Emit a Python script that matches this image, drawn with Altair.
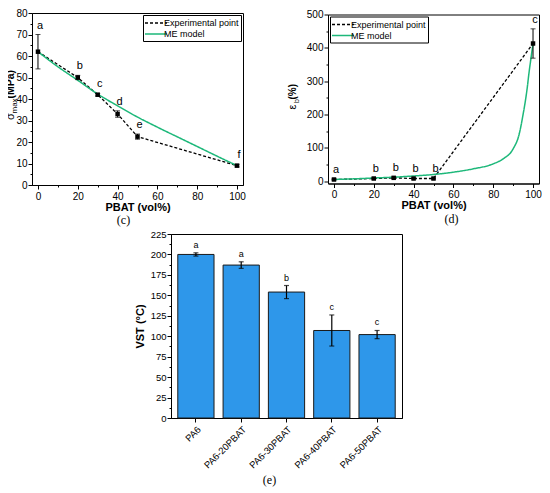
import altair as alt
import pandas as pd

# ---------------- data ----------------
pbat = [0, 20, 30, 40, 50, 100]
sigma = [62, 50, 42, 33, 22.5, 9]
sigma_err = [8, 1, 0.6, 1.5, 1.2, 0.6]
sigma_labels = ["a", "b", "c", "d", "e", "f"]
me_sigma_x = [0, 10, 20, 30, 40, 50, 60, 70, 80, 90, 100]
me_sigma_y = [62, 55, 48.7, 42.3, 36.8, 31.6, 26.9, 22.4, 17.9, 13.4, 9]

eps = [5, 8, 10, 8, 8, 413]
eps_err = [1.5, 1.5, 2, 1.5, 1.5, 44]
eps_labels = ["a", "b", "b", "b", "b", "c"]
me_eps_x = [0, 10, 20, 30, 40, 50, 60, 70, 80, 85, 90, 93, 95, 97, 98, 99, 100]
me_eps_y = [5, 7, 9.5, 12, 15.5, 20, 27, 37, 52, 67, 97, 140, 200, 276, 326, 370, 413]

vst_cats = ["PA6", "PA6-20PBAT", "PA6-30PBAT", "PA6-40PBAT", "PA6-50PBAT"]
vst = [200, 187, 154, 107, 102]
vst_err = [2, 4, 8, 19, 5]
vst_labels = ["a", "a", "b", "c", "c"]

series = ["Experimental point", "ME model"]
GREEN = "#1db87a"
FONT = "Liberation Sans"


def exp_df(x, y, err, lab):
    return pd.DataFrame({"x": x, "y": y, "lo": [a - b for a, b in zip(y, err)],
                         "hi": [a + b for a, b in zip(y, err)], "label": lab,
                         "series": series[0]})


df_c = exp_df(pbat, sigma, sigma_err, sigma_labels)
df_c_me = pd.DataFrame({"x": me_sigma_x, "y": me_sigma_y, "series": series[1]})
df_d = exp_df(pbat, eps, eps_err, eps_labels)
df_d_me = pd.DataFrame({"x": me_eps_x, "y": me_eps_y, "series": series[1]})
df_e = pd.DataFrame({"cat": vst_cats, "y": vst,
                     "lo": [a - b for a, b in zip(vst, vst_err)],
                     "hi": [a + b for a, b in zip(vst, vst_err)],
                     "label": vst_labels})
one = pd.DataFrame({"k": [0]})


def minor_axis(values, major, **kw):
    return alt.Axis(values=values, labelOverlap=False,
                    labelExpr=f"datum.value % {major} === 0 ? datum.label : ''",
                    tickSize={"condition": {"test": f"datum.value % {major} !== 0", "value": 2}, "value": 4},
                    **kw)


def xy_panel(df, df_me, ydom, yvals, ymajor, w, h, legend_orient, ptitle, pdx, ytitle_parts):
    xs = alt.Scale(domain=[-3, 103], nice=False)
    ys = alt.Scale(domain=ydom, nice=False)
    xax = minor_axis(list(range(0, 101, 10)), 20, title="PBAT (vol%)",
                     titleFontSize=11, titleFontWeight="bold", titleY=16, titleBaseline="top")
    yax = minor_axis(yvals, ymajor, title="", labelPadding=1)
    X = alt.X("x:Q", scale=xs, axis=xax)
    Y = alt.Y("y:Q", scale=ys, axis=yax)
    Ylo = alt.Y("lo:Q", scale=ys, axis=yax)
    Yhi = alt.Y("hi:Q", scale=ys, axis=yax)
    color = alt.Color("series:N", scale=alt.Scale(domain=series, range=["black", GREEN]),
                      legend=alt.Legend(title=None, orient=legend_orient, offset=2,
                                        strokeColor="black", fillColor="white",
                                        padding=2, symbolType="M-2.2,0H2.2", symbolSize=100,
                                        symbolOffset=5, symbolStrokeWidth=1.5, labelFontSize=9,
                                        labelOffset=2, rowPadding=0, labelFont=FONT))
    dash = alt.StrokeDash("series:N", scale=alt.Scale(domain=series, range=[[3, 2], [1, 0]]),
                          legend=alt.Legend(title=None, orient=legend_orient))
    base = alt.Chart(df)
    exp_line = base.mark_line(strokeWidth=1.3).encode(x=X, y=Y, color=color, strokeDash=dash)
    me_line = alt.Chart(df_me).mark_line(strokeWidth=1.5, interpolate="monotone").encode(
        x=X, y=Y, color=color, strokeDash=dash)
    pts = base.mark_square(size=20, color="black", opacity=1).encode(x=X, y=Y)
    rule = base.mark_rule(color="black", strokeWidth=1).encode(x=X, y=Ylo, y2="hi:Q")
    cap_lo = base.mark_tick(orient="horizontal", size=5, thickness=1, color="black").encode(x=X, y=Ylo)
    cap_hi = base.mark_tick(orient="horizontal", size=5, thickness=1, color="black").encode(x=X, y=Yhi)
    labs = base.mark_text(dy=-9, dx=2, fontSize=11, font=FONT, color="black").encode(
        x=X, y=Yhi, text="label:N")
    tparts = []
    for txt, xo, yo, fs, fw in ytitle_parts:
        tparts.append(alt.Chart(one).mark_text(angle=270, align="left", baseline="alphabetic",
                                               fontSize=fs, fontWeight=fw, font=FONT,
                                               color="black").encode(
            x=alt.value(xo), y=alt.value(yo), text=alt.value(txt)))
    return alt.layer(exp_line, me_line, rule, cap_lo, cap_hi, pts, labs, *tparts).properties(
        width=w, height=h,
        title=alt.TitleParams(ptitle, orient="bottom", frame="group", offset=3, dx=pdx,
                              font="Liberation Serif", fontSize=12, fontWeight="normal",
                              color="black"))


c = xy_panel(df_c, df_c_me, [0, 80], list(range(0, 81, 5)), 10, 211, 172, "top-right", "(c)", -14,
             [("σ", -18, 107, 11, "normal"), ("max", -15.5, 100.5, 8, "normal"),
              ("(MPa)", -18, 85.5, 10.5, "bold")])
d = xy_panel(df_d, df_d_me, [-7, 500], list(range(0, 501, 50)), 100, 211, 169, "top-left", "(d)", 18,
             [("ε", -32, 95, 11, "normal"), ("b", -29.5, 88.5, 7, "normal"),
              ("(%)", -32, 85, 10, "bold")])

# ---------------- panel e ----------------
ye = alt.Scale(domain=[0, 225], nice=False)
xsc = alt.Scale(paddingInner=0.2, paddingOuter=0.15)
xeax = alt.Axis(title=None, labelAngle=-45, labelAlign="right", labelBaseline="top",
                labelFontSize=9.5, tickSize=4, labelPadding=2)
yeax = alt.Axis(values=[i * 12.5 for i in range(19)], title="VST (°C)", labelOverlap=False,
                labelExpr="datum.value % 25 === 0 ? datum.label : ''",
                tickSize={"condition": {"test": "datum.value % 25 !== 0", "value": 2}, "value": 4},
                labelFontSize=9.5, labelPadding=1, titleFontSize=11,
                titleFontWeight="bold", titleX=-26, titleY=92)
xe = alt.X("cat:N", sort=vst_cats, scale=xsc, axis=xeax)
Ye = alt.Y("y:Q", scale=ye, axis=yeax)
Yelo = alt.Y("lo:Q", scale=ye, axis=yeax)
Yehi = alt.Y("hi:Q", scale=ye, axis=yeax)
be = alt.Chart(df_e)
bars = be.mark_bar(color="#2e97ea", stroke="#1a1a1a", strokeWidth=1).encode(x=xe, y=Ye)
erule = be.mark_rule(color="black", strokeWidth=1.2).encode(x=xe, y=Yelo, y2="hi:Q")
ecap_lo = be.mark_tick(orient="horizontal", size=5, thickness=1.2, color="black").encode(x=xe, y=Yelo)
ecap_hi = be.mark_tick(orient="horizontal", size=5, thickness=1.2, color="black").encode(x=xe, y=Yehi)
elabs = be.mark_text(baseline="bottom", dy=-3, fontSize=9, font=FONT, color="black").encode(
    x=xe, y=Yehi, text="label:N")
e = alt.layer(bars, erule, ecap_lo, ecap_hi, elabs).properties(
    width=231, height=184,
    title=alt.TitleParams("(e)", orient="bottom", frame="group", offset=5, dx=-17,
                          font="Liberation Serif", fontSize=12, fontWeight="normal",
                          color="black"))

spacer = alt.Chart(one).mark_point(opacity=0).encode(x=alt.value(0), y=alt.value(0)).properties(
    width=1, height=1, view=alt.ViewBackground(stroke="transparent"))

top = alt.hconcat(c, d, spacing=85, bounds="flush", center=True).resolve_scale(
    color="independent", strokeDash="independent").resolve_legend(
    color="independent", strokeDash="independent")
bottom = alt.hconcat(spacer, e, spacing=138, bounds="flush")

chart = alt.vconcat(top, bottom, spacing=1).properties(
    padding={"left": -4, "top": -1, "right": 0, "bottom": 0},
).configure_view(stroke="black", strokeWidth=1).configure_axis(
    grid=False, labelFont=FONT, titleFont=FONT, labelColor="black", titleColor="black",
    domainColor="black", tickColor="black", labelFontSize=10, domainWidth=1, tickWidth=1,
).configure_text(font=FONT)

chart.save("out.html", embed_options={"renderer": "svg", "actions": False})
